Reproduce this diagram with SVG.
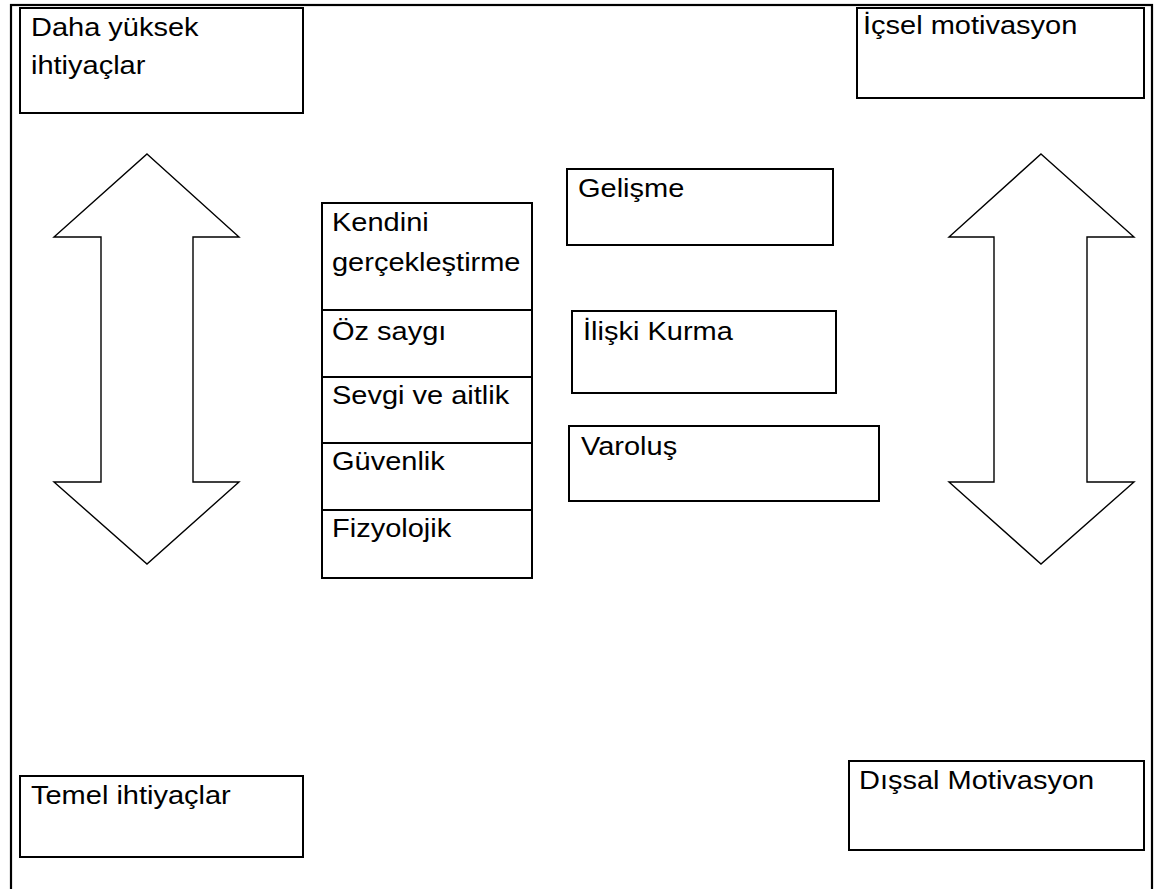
<svg xmlns="http://www.w3.org/2000/svg" width="1156" height="889" viewBox="0 0 1156 889">
<style>
.box{fill:#fff;stroke:#000;stroke-width:2}
.arrow{fill:#fff;stroke:#000;stroke-width:1.4;stroke-linejoin:miter}
.t{font-family:"Liberation Sans",Arial,sans-serif;font-size:29px;fill:#000}
</style>
<rect width="1156" height="889" fill="#fff"/>
<rect x="11" y="5" width="1141" height="900" fill="none" stroke="#000" stroke-width="2.2"/>
<g id="n-daha">
<rect class="box" x="20" y="8" width="283" height="105"/>
<text class="t" transform="translate(31,36) scale(1,0.87)">Daha yüksek</text>
<text class="t" transform="translate(31,74) scale(1,0.87)">ihtiyaçlar</text>
</g>
<g id="n-icsel">
<rect class="box" x="857" y="8" width="287" height="90"/>
<text class="t" transform="translate(863,34) scale(1,0.87)">İçsel motivasyon</text>
</g>
<g id="n-arrow-left">
<polygon class="arrow" points="147,154 239,237 193,237 193,482 239,482 147,564 54,482 101,482 101,237 54,237"/>
</g>
<g id="n-arrow-right">
<polygon class="arrow" points="1041,154 1134,237 1087,237 1087,482 1134,482 1041,564 949,482 994,482 994,237 949,237"/>
</g>
<g id="n-stack">
<rect class="box" x="322" y="203" width="210" height="375"/>
<line class="box" x1="322" y1="310" x2="532" y2="310"/>
<line class="box" x1="322" y1="377" x2="532" y2="377"/>
<line class="box" x1="322" y1="443" x2="532" y2="443"/>
<line class="box" x1="322" y1="510" x2="532" y2="510"/>
<text class="t" transform="translate(332,231) scale(1,0.87)">Kendini</text>
<text class="t" transform="translate(332,271) scale(1,0.87)">gerçekleştirme</text>
<text class="t" transform="translate(332,340) scale(1,0.87)">Öz saygı</text>
<text class="t" transform="translate(332,404) scale(1,0.87)">Sevgi ve aitlik</text>
<text class="t" transform="translate(332,470) scale(1,0.87)">Güvenlik</text>
<text class="t" transform="translate(332,537) scale(1,0.87)">Fizyolojik</text>
</g>
<g id="n-gelisme">
<rect class="box" x="567" y="169" width="266" height="76"/>
<text class="t" transform="translate(578,197) scale(1,0.87)">Gelişme</text>
</g>
<g id="n-iliski">
<rect class="box" x="572" y="311" width="264" height="82"/>
<text class="t" transform="translate(583,340) scale(1,0.87)">İlişki Kurma</text>
</g>
<g id="n-varolus">
<rect class="box" x="569" y="426" width="310" height="75"/>
<text class="t" transform="translate(581,455) scale(1,0.87)">Varoluş</text>
</g>
<g id="n-temel">
<rect class="box" x="20" y="776" width="283" height="81"/>
<text class="t" transform="translate(31,804) scale(1,0.87)">Temel ihtiyaçlar</text>
</g>
<g id="n-dissal">
<rect class="box" x="849" y="761" width="295" height="89"/>
<text class="t" transform="translate(859,789) scale(1,0.87)">Dışsal Motivasyon</text>
</g>
<g id="connectors"></g>
</svg>
